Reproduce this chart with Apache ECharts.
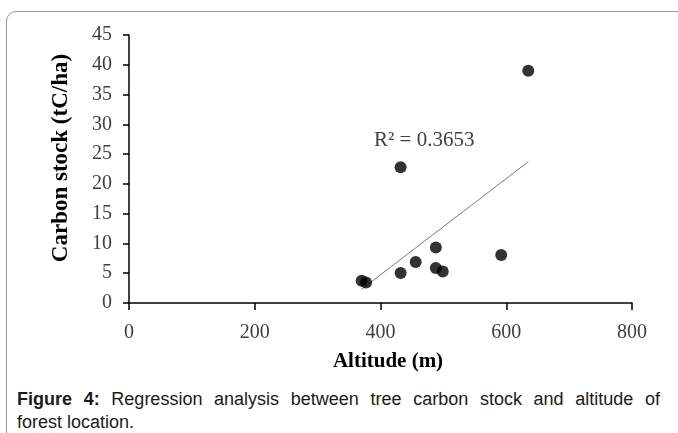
<!DOCTYPE html>
<html>
<head>
<meta charset="utf-8">
<script src="https://cdn.jsdelivr.net/npm/echarts@6/dist/echarts.min.js"></script>
<style>
  html, body { margin: 0; padding: 0; background: #fff; }
  body { width: 678px; height: 433px; position: relative; overflow: hidden; }
  #frame { position: absolute; left: 6px; top: 11px; width: 720px; height: 460px;
           border: 1px solid #9a9a9a; border-radius: 10px; box-sizing: border-box; }
  #chart { position: absolute; left: 0; top: 0; width: 678px; height: 385px; }
  .cap { position: absolute; left: 17px; width: 643px;
         font-family: "Liberation Sans", Arial, sans-serif; font-size: 18px;
         line-height: 22px; color: #1a1a1a; white-space: nowrap; }
  #cap1 { top: 388px; text-align: justify; text-align-last: justify; white-space: normal; }
  #cap2 { top: 411px; text-align: left; }
</style>
</head>
<body>
<div id="frame"></div>
<div id="chart"></div>
<div id="cap1" class="cap"><b>Figure 4:</b> Regression analysis between tree carbon stock and altitude of</div>
<div id="cap2" class="cap">forest location.</div>
<script>
// Data
const altitude = [370, 377, 432, 432, 456, 488, 488, 499, 592, 635];
const carbon   = [3.74, 3.46, 22.8, 5.03, 6.88, 9.33, 5.87, 5.3, 8.05, 39.0];
const xTicks = [0, 200, 400, 600, 800];
const yTicks = [0, 5, 10, 15, 20, 25, 30, 35, 40, 45];
const xTitle = 'Altitude (m)';
const yTitle = 'Carbon stock (tC/ha)';
const r2Label = 'R² = 0.3653';

// least-squares linear trendline from the data
const n = altitude.length;
const mx = altitude.reduce((a, b) => a + b, 0) / n;
const my = carbon.reduce((a, b) => a + b, 0) / n;
let sxy = 0, sxx = 0;
for (let i = 0; i < n; i++) { sxy += (altitude[i] - mx) * (carbon[i] - my); sxx += (altitude[i] - mx) ** 2; }
const slope = sxy / sxx, intercept = my - slope * mx;
const xMin = Math.min(...altitude), xMax = Math.max(...altitude);
const trend = [[xMin, intercept + slope * xMin], [xMax, intercept + slope * xMax]];

const serif = '"Liberation Serif", "Times New Roman", serif';
const chart = echarts.init(document.getElementById('chart'));
chart.setOption({
  animation: false,
  grid: { left: 129, right: 46, top: 35, bottom: 82 },
  xAxis: {
    type: 'value', min: xTicks[0], max: xTicks[xTicks.length - 1], interval: 200,
    splitLine: { show: false },
    axisLine: { lineStyle: { color: '#000', width: 1.5 } },
    axisTick: { show: true, length: 7, lineStyle: { color: '#000', width: 1.5 } },
    axisLabel: { fontFamily: serif, fontSize: 20, color: '#404040', margin: 20 }
  },
  yAxis: {
    type: 'value', min: yTicks[0], max: yTicks[yTicks.length - 1], interval: 5,
    splitLine: { show: false },
    axisLine: { show: true, lineStyle: { color: '#000', width: 1.5 } },
    axisTick: { show: true, length: 6, lineStyle: { color: '#000', width: 1.5 } },
    axisLabel: { fontFamily: serif, fontSize: 20, color: '#404040', margin: 17 }
  },
  series: [
    {
      type: 'line', data: trend, symbol: 'none', silent: true,
      lineStyle: { color: '#7a7a7a', width: 1 }, z: 1
    },
    {
      type: 'scatter', data: altitude.map((x, i) => [x, carbon[i]]),
      symbol: 'circle', symbolSize: 12, itemStyle: { color: '#000' }, z: 2
    }
  ],
  graphic: [
    {
      type: 'text', x: 374, y: 130,
      style: { text: r2Label, font: '21px ' + serif, fill: '#404040' }
    },
    {
      type: 'text', x: 388, y: 362,
      style: { text: xTitle, font: 'bold 21px ' + serif, fill: '#000',
               align: 'center', verticalAlign: 'middle' }
    },
    {
      type: 'text', x: 61, y: 158, rotation: Math.PI / 2,
      style: { text: yTitle, font: 'bold 23px ' + serif, fill: '#000',
               align: 'center', verticalAlign: 'middle' }
    }
  ]
});
</script>
</body>
</html>
